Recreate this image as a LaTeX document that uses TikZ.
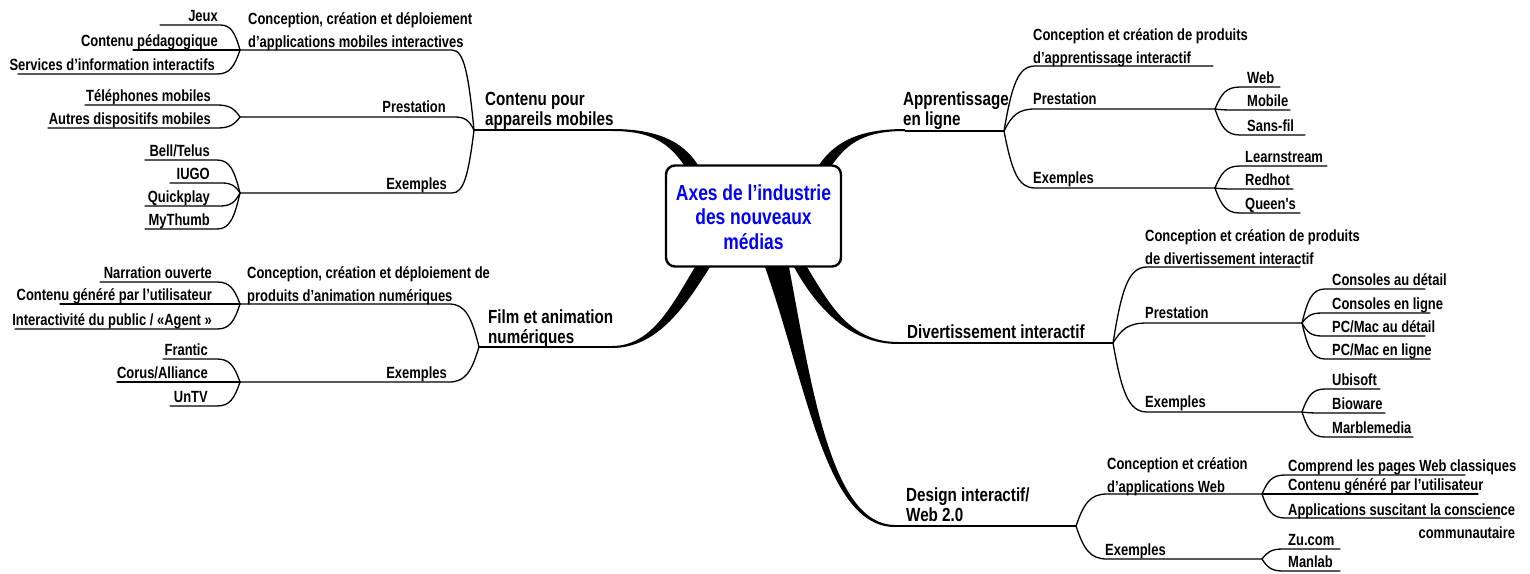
\documentclass[tikz,border=0pt]{standalone}
\usepackage{fontspec}
\usetikzlibrary{calc}
\newfontfamily\cond{Liberation Sans}[FakeStretch=0.8]
\newcommand\twol[2]{\begin{tabular}[b]{@{}l@{}}#1\\#2\end{tabular}}
\newcommand\twor[2]{\begin{tabular}[b]{@{}r@{}}#1\\#2\end{tabular}}
\tikzset{
  thinline/.style={line width=1.3pt, line cap=round, line join=round},
  mainline/.style={line width=1.8pt},
  leafL/.style={inner sep=0pt, anchor=base east, font=\cond\bfseries\fontsize{16.2}{23}\selectfont},
  leafR/.style={inner sep=0pt, anchor=base west, font=\cond\bfseries\fontsize{16.2}{23}\selectfont},
  mainlbl/.style={inner sep=0pt, anchor=base west, font=\cond\bfseries\fontsize{19}{19.5}\selectfont},
  centerbox/.style={draw, fill=white, rounded corners=9pt, line width=2.4pt,
    minimum width=175pt, minimum height=101pt, inner sep=0pt, text=blue,
    font=\cond\bfseries\fontsize{21.8}{24.5}\selectfont}
}
% connector: leaves junction #1 steeply, arrives flat at #2, then runs to #3
\newcommand\conn[3]{\draw[thinline] let \p1=(#1), \p2=(#2) in (#1) .. controls ({\x1+0.25*(\x2-\x1)},{\y1+0.7*(\y2-\y1)}) and ({\x1+0.45*(\x2-\x1)},{\y2}) .. (#2) -- (#3);}
% leaf: #1 junction, #2 name, #3 start x, #4 end x, #5 line y, #6 text x, #7 text
\newcommand\leafl[7]{\coordinate (#2s) at (#3,#5); \coordinate (#2e) at (#4,#5);
  \node[leafL] (#2) at (#6,#5-3.5) {#7}; \conn{#1}{#2s}{#2e}}
\newcommand\leafr[7]{\coordinate (#2s) at (#3,#5); \coordinate (#2e) at (#4,#5);
  \node[leafR] (#2) at (#6,#5-3.5) {#7}; \conn{#1}{#2s}{#2e}}
\begin{document}
\begin{tikzpicture}[x=1pt,y=-1pt]
\path[use as bounding box] (0,0) rectangle (1530,573);

% ---- thick tapered main branches ----
\fill (684,165) .. controls (668,142) and (650,131) .. (612,131) -- (612,129) .. controls (655,129) and (682,140) .. (698,165) -- cycle;
\fill (695,267) .. controls (672,305) and (652,346) .. (612,346) -- (612,348) .. controls (658,348) and (686,305) .. (710,267) -- cycle;
\fill (832,165) .. controls (848,142) and (866,131) .. (905,131) -- (905,129) .. controls (862,129) and (836,140) .. (819,165) -- cycle;
\fill (807,267) .. controls (830,305) and (850,342) .. (898,342) -- (898,344) .. controls (848,344) and (815,305) .. (794,267) -- cycle;
\fill (765,267) .. controls (808,390) and (826,527) .. (895,527) -- (895,525) .. controls (832,525) and (812,390) .. (789,267) -- cycle;

% ---- centre ----
\node[centerbox] (center) at (753.5,216) {\raisebox{16pt}[0pt][0pt]{\begin{tabular}[t]{@{}c@{}}Axes de l’industrie\\des nouveaux\\médias\end{tabular}}};

% ---- Contenu pour appareils mobiles ----
\coordinate (M) at (474,130); \coordinate (Mw) at (615,130);
\draw[mainline] (M) -- (Mw);
\node[mainlbl] (mob) at (485,125) {\twol{Contenu pour}{appareils mobiles}};
\node[leafR] (mobconc) at (248,47) {\twol{Conception, création et déploiement}{d’applications mobiles interactives}};
\coordinate (m1s) at (452,50); \coordinate (J1) at (240,50);
\conn{M}{m1s}{J1}
\node[leafL] (mobpre) at (446,112) {Prestation};
\coordinate (m2s) at (455,117); \coordinate (J2) at (240,117);
\conn{M}{m2s}{J2}
\node[leafL] (mobex) at (447,189) {Exemples};
\coordinate (m3s) at (452,193); \coordinate (J3) at (240,193);
\conn{M}{m3s}{J3}
\leafl{J1}{jeux}{220}{160}{25}{218}{Jeux}
\leafl{J1}{peda}{225}{133}{50}{218}{Contenu pédagogique}
\leafl{J1}{serv}{217}{18}{74}{215}{Services d’information interactifs}
\leafl{J2}{tel}{217}{85}{105}{211}{Téléphones mobiles}
\leafl{J2}{autres}{217}{48}{128}{211}{Autres dispositifs mobiles}
\leafl{J3}{bell}{217}{145}{160}{210}{Bell/Telus}
\leafl{J3}{iugo}{222}{170}{183}{210}{IUGO}
\leafl{J3}{quick}{220}{145}{206}{210}{Quickplay}
\leafl{J3}{thumb}{217}{145}{229}{210}{MyThumb}

% ---- Film et animation numériques ----
\coordinate (F) at (479,347); \coordinate (Fw) at (612,347);
\draw[mainline] (F) -- (Fw);
\node[mainlbl] (film) at (488,343) {\twol{Film et animation}{numériques}};
\node[leafR] (filmconc) at (247,301) {\twol{Conception, création et déploiement de}{produits d’animation numériques}};
\coordinate (f1s) at (449,304); \coordinate (J4) at (240,304);
\conn{F}{f1s}{J4}
\node[leafL] (filmex) at (447,378) {Exemples};
\coordinate (f2s) at (449,382); \coordinate (J5) at (240,382);
\conn{F}{f2s}{J5}
\leafl{J4}{narr}{217}{100}{282}{212}{Narration ouverte}
\leafl{J4}{ugc}{225}{60}{304}{212}{Contenu généré par l’utilisateur}
\leafl{J4}{agent}{217}{15}{329}{212}{Interactivité du public / «Agent »}
\leafl{J5}{frantic}{217}{163}{359}{208}{Frantic}
\leafl{J5}{corus}{225}{117}{382}{208}{Corus/Alliance}
\leafl{J5}{untv}{217}{170}{406}{208}{UnTV}

% ---- Apprentissage en ligne ----
\coordinate (A) at (1004,131); \coordinate (Aw) at (905,131);
\draw[mainline] (Aw) -- (A);
\node[mainlbl] (appr) at (903,125) {\twol{Apprentissage}{en ligne}};
\node[leafR] (apconc) at (1033,63) {\twol{Conception et création de produits}{d’apprentissage interactif}};
\coordinate (a1s) at (1035,66); \coordinate (a1e) at (1213,66);
\conn{A}{a1s}{a1e}
\node[leafR] (appre) at (1033,104) {Prestation};
\coordinate (a2s) at (1035,109); \coordinate (AP) at (1215,109);
\conn{A}{a2s}{AP}
\node[leafR] (apex) at (1033,183) {Exemples};
\coordinate (a3s) at (1035,188); \coordinate (AE) at (1215,188);
\conn{A}{a3s}{AE}
\leafr{AP}{web}{1240}{1280}{87}{1247}{Web}
\leafr{AP}{mobile}{1235}{1290}{110}{1247}{Mobile}
\leafr{AP}{sansfil}{1240}{1305}{135}{1247}{Sans-fil}
\leafr{AE}{learn}{1240}{1327}{166}{1245}{Learnstream}
\leafr{AE}{redhot}{1235}{1293}{189}{1245}{Redhot}
\leafr{AE}{queens}{1240}{1300}{213}{1245}{Queen's}

% ---- Divertissement interactif ----
\coordinate (D) at (1113,343); \coordinate (Dw) at (898,343);
\draw[mainline] (Dw) -- (D);
\node[mainlbl] (div) at (907,338) {Divertissement interactif};
\node[leafR] (dconc) at (1145,264) {\twol{Conception et création de produits}{de divertissement interactif}};
\coordinate (d1s) at (1147,267); \coordinate (d1e) at (1300,267);
\conn{D}{d1s}{d1e}
\node[leafR] (dpre) at (1145,318) {Prestation};
\coordinate (d2s) at (1147,323); \coordinate (DP) at (1302,323);
\conn{D}{d2s}{DP}
\node[leafR] (dex) at (1145,407) {Exemples};
\coordinate (d3s) at (1147,412); \coordinate (DE) at (1302,412);
\conn{D}{d3s}{DE}
\leafr{DP}{consd}{1325}{1425}{289}{1332}{Consoles au détail}
\leafr{DP}{consl}{1322}{1430}{313}{1332}{Consoles en ligne}
\leafr{DP}{pcd}{1322}{1425}{336}{1332}{PC/Mac au détail}
\leafr{DP}{pcl}{1325}{1430}{359}{1332}{PC/Mac en ligne}
\leafr{DE}{ubi}{1325}{1380}{389}{1332}{Ubisoft}
\leafr{DE}{bio}{1322}{1385}{413}{1332}{Bioware}
\leafr{DE}{marble}{1325}{1413}{437}{1332}{Marblemedia}

% ---- Design interactif / Web 2.0 ----
\coordinate (S) at (1076,526); \coordinate (Sw) at (893,526);
\draw[mainline] (Sw) -- (S);
\node[mainlbl] (design) at (906,521) {\twol{Design interactif/}{Web 2.0}};
\node[leafR] (sconc) at (1107,492) {\twol{Conception et création}{d’applications Web}};
\coordinate (s1s) at (1107,494); \coordinate (DW) at (1262,494);
\conn{S}{s1s}{DW}
\node[leafR] (sex) at (1105,555) {Exemples};
\coordinate (s2s) at (1107,559); \coordinate (DX) at (1262,559);
\conn{S}{s2s}{DX}
\leafr{DW}{compr}{1285}{1465}{475}{1288}{Comprend les pages Web classiques}
\leafr{DW}{ugcw}{1280}{1478}{494}{1288}{Contenu généré par l’utilisateur}
\coordinate (appls) at (1285,518); \coordinate (apple) at (1500,518);
\node[leafR] (appl) at (1288,538) {\twor{Applications suscitant la conscience}{communautaire}};
\conn{DW}{appls}{apple}
\leafr{DX}{zu}{1283}{1340}{549}{1288}{Zu.com}
\leafr{DX}{manlab}{1283}{1340}{571}{1288}{Manlab}
\end{tikzpicture}
\end{document}
